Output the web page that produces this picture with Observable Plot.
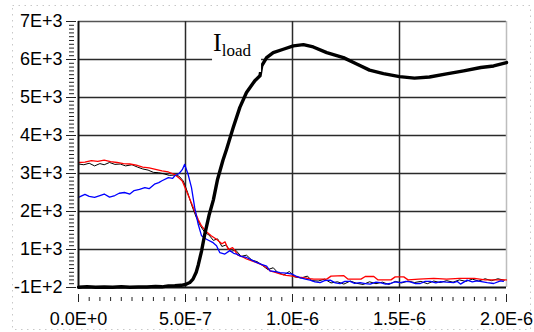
<!DOCTYPE html>
<html>
<head>
<meta charset="utf-8">
<script src="https://cdn.jsdelivr.net/npm/d3@7"></script>
<script src="https://cdn.jsdelivr.net/npm/@observablehq/plot@0.6"></script>
<style>
  html, body { margin: 0; padding: 0; background: #fff; }
  #chart { width: 534px; height: 332px; }
</style>
</head>
<body>
<div id="chart"></div>
<script>
// x in units of 1e-7 s
const xTicks = [0, 5, 10, 15, 20];
const xTickLabels = ["0.0E+0", "5.0E-7", "1.0E-6", "1.5E-6", "2.0E-6"];
const yTicks = [0, 1000, 2000, 3000, 4000, 5000, 6000, 7000];
const yTickLabels = ["-1E+2", "1E+3", "2E+3", "3E+3", "4E+3", "5E+3", "6E+3", "7E+3"];

const annotationMain = "I";
const annotationSub = "load";

// I_load (thick black)
const tIload = [0, 0.4, 0.8, 1.2, 1.6, 2.0, 2.4, 2.8, 3.2, 3.6, 3.9, 4.2, 4.5, 4.8, 5.0, 5.2, 5.35, 5.5, 5.6, 5.75, 5.9, 6.1, 6.3, 6.5, 6.75, 6.92, 7.23, 7.54, 7.85, 8.24, 8.48, 8.56, 8.79, 9.1, 9.57, 10.04, 10.51, 10.97, 11.6, 12.38, 13.0, 13.6, 14.25, 15.0, 15.7, 16.4, 17.2, 18.0, 18.8, 19.4, 20];
const iload  = [8, 18, 8, 14, 8, 18, 8, 14, 14, 28, 18, 42, 48, 58, 80, 130, 220, 400, 600, 960, 1400, 1900, 2300, 2850, 3350, 3640, 4210, 4740, 5130, 5440, 5570, 5830, 6050, 6180, 6270, 6360, 6390, 6330, 6180, 6050, 5880, 5720, 5630, 5550, 5510, 5540, 5620, 5700, 5790, 5830, 5920];

// thin black trace
const tBlack = [0, 0.25, 0.5, 0.75, 1.0, 1.2, 1.45, 1.7, 1.95, 2.2, 2.5, 2.75, 3.0, 3.25, 3.5, 3.75, 4.0, 4.25, 4.5, 4.7, 4.9, 5.1, 5.3, 5.5, 5.7, 5.9, 6.1, 6.3, 6.5, 6.7, 6.9, 7.1, 7.35, 7.6, 7.85, 8.1, 8.35, 8.6, 8.85, 9.1, 9.3, 9.6, 9.85, 10.1, 10.4, 10.7, 10.9, 11.2, 11.5, 11.8, 12.1, 12.4, 12.7, 13.0, 13.3, 13.6, 13.9, 14.2, 14.5, 14.8, 15.1, 15.4, 15.7, 16.0, 16.3, 16.6, 16.9, 17.2, 17.5, 17.8, 18.1, 18.4, 18.7, 19.0, 19.3, 19.6, 19.9];
const black  = [3250, 3230, 3270, 3200, 3260, 3230, 3290, 3240, 3250, 3200, 3230, 3170, 3120, 3090, 3030, 3020, 2990, 2950, 2960, 2930, 2800, 2500, 2150, 1850, 1620, 1450, 1380, 1240, 1280, 1080, 1120, 950, 980, 820, 850, 720, 680, 580, 470, 520, 400, 330, 420, 280, 250, 300, 180, 170, 220, 120, 150, 90, 170, 110, 80, 150, 100, 140, 80, 160, 120, 170, 130, 160, 100, 170, 130, 180, 140, 200, 160, 220, 170, 230, 180, 230, 190];

// red trace
const tRed = [0, 0.3, 0.6, 0.9, 1.2, 1.5, 1.8, 2.1, 2.4, 2.7, 3.0, 3.3, 3.6, 3.9, 4.2, 4.5, 4.7, 4.85, 5.0, 5.2, 5.4, 5.6, 5.75, 5.95, 6.2, 6.45, 6.7, 6.85, 7.0, 7.2, 7.45, 7.7, 7.85, 8.1, 8.3, 8.55, 8.8, 8.95, 9.2, 9.45, 9.7, 10.0, 10.3, 10.5, 10.8, 11.0, 11.6, 11.8, 12.4, 12.6, 13.2, 13.4, 13.8, 14.0, 14.6, 14.8, 15.2, 15.4, 15.9, 16.6, 17.2, 17.8, 18.5, 19.0, 20.0];
const red  = [3290, 3300, 3340, 3320, 3350, 3310, 3290, 3260, 3250, 3220, 3170, 3150, 3110, 3070, 3040, 2970, 2880, 2800, 2600, 2330, 2050, 1780, 1620, 1480, 1360, 1270, 1150, 1200, 1000, 1050, 850, 800, 750, 700, 660, 600, 520, 440, 400, 350, 320, 300, 270, 260, 230, 220, 220, 300, 310, 220, 220, 290, 290, 200, 200, 280, 280, 200, 220, 240, 220, 240, 240, 200, 200];

// blue trace
const tBlue = [0, 0.3, 0.5, 0.75, 1.0, 1.2, 1.45, 1.7, 1.9, 2.15, 2.4, 2.6, 2.85, 3.1, 3.3, 3.55, 3.75, 3.9, 4.2, 4.4, 4.5, 4.7, 4.85, 4.96, 5.12, 5.28, 5.43, 5.59, 5.75, 5.98, 6.29, 6.45, 6.6, 6.84, 7.07, 7.25, 7.39, 7.6, 7.85, 8.1, 8.32, 8.55, 8.79, 8.95, 9.2, 9.42, 9.7, 10.0, 10.2, 10.35, 10.6, 10.82, 11.05, 11.29, 11.5, 11.76, 12.0, 12.22, 12.45, 12.69, 12.9, 13.16, 13.4, 13.63, 13.9, 14.1, 14.35, 14.57, 14.8, 15.04, 15.3, 15.5, 15.75, 15.97, 16.2, 16.44, 16.7, 16.91, 17.2, 17.53, 17.7, 17.85, 18.16, 18.4, 18.63, 18.9, 19.1, 19.4, 19.72, 19.85];
const blue  = [2370, 2450, 2400, 2370, 2420, 2460, 2380, 2420, 2480, 2500, 2460, 2550, 2580, 2630, 2600, 2720, 2760, 2810, 2890, 2870, 2940, 3000, 3100, 3240, 2980, 2630, 2100, 1670, 1360, 1270, 1180, 1100, 920, 880, 970, 900, 880, 820, 790, 720, 660, 610, 560, 440, 420, 390, 380, 350, 290, 260, 220, 195, 150, 130, 180, 195, 120, 100, 160, 160, 110, 130, 100, 90, 140, 130, 90, 105, 150, 130, 160, 150, 100, 105, 160, 160, 120, 155, 140, 130, 160, 90, 195, 150, 175, 150, 130, 105, 175, 160];

const rows = (t, v) => t.map((x, i) => ({t: x, v: v[i]}));
const xMinor = d3.range(0, 20.001, 0.5);
const yMinor = d3.range(0, 7000.001, 100);
const fmtX = d => xTickLabels[xTicks.indexOf(d)];
const fmtY = d => yTickLabels[yTicks.indexOf(d)];

const annotation = (index, scales, values, dims) => {
  const g = d3.create("svg:g");
  // outer dotted frame
  g.append("rect")
    .attr("x", 12.5).attr("y", 5.5)
    .attr("width", dims.width - 16).attr("height", dims.height - 8)
    .attr("fill", "none").attr("stroke", "#c8c8c8")
    .attr("stroke-dasharray", "1.5,4.5");
  const x0 = scales.x(6.31), y0 = scales.y(6211);
  g.append("rect")
    .attr("x", x0 - 1).attr("y", y0 - 23)
    .attr("width", 49).attr("height", 44)
    .attr("fill", "#fff");
  const t = g.append("text")
    .attr("x", x0).attr("y", y0)
    .attr("text-anchor", "start")
    .attr("font-family", "'Liberation Serif', 'Times New Roman', serif")
    .attr("font-size", 26).attr("fill", "#000");
  t.append("tspan").text(annotationMain);
  t.append("tspan").attr("font-size", 17).attr("dy", 5).text(annotationSub);
  return g.node();
};

const chart = Plot.plot({
  width: 534,
  height: 332,
  marginLeft: 78,
  marginRight: 28,
  marginTop: 21,
  marginBottom: 45,
  style: {fontFamily: "'Liberation Sans', Arial, sans-serif", fontSize: "18px", background: "#fff", color: "#000"},
  x: {domain: [0, 20], axis: null},
  y: {domain: [0, 7000], axis: null},
  marks: [
    Plot.ruleY(yTicks.slice(1, -1), {stroke: "#2a2a2a", strokeWidth: 1.5}),
    Plot.ruleY([7000], {stroke: "#555", strokeWidth: 1.5}),
    Plot.ruleX([5, 10, 15], {stroke: "#2a2a2a", strokeWidth: 1.5}),
    Plot.ruleX([20], {stroke: "#bdbdbd", strokeWidth: 1.5}),
    Plot.line(rows(tBlack, black), {x: "t", y: "v", stroke: "#000", strokeWidth: 1}),
    Plot.line(rows(tRed, red), {x: "t", y: "v", stroke: "#ff0000", strokeWidth: 1.3}),
    Plot.line(rows(tBlue, blue), {x: "t", y: "v", stroke: "#0000ff", strokeWidth: 1.3}),
    Plot.ruleX([0], {stroke: "#111", strokeWidth: 2}),
    Plot.ruleY([0], {stroke: "#111", strokeWidth: 2}),
    Plot.line(rows(tIload, iload), {x: "t", y: "v", stroke: "#000", strokeWidth: 3.4}),
    Plot.axisX(xMinor, {tickSize: 4, dy: 10, tickFormat: () => "", stroke: "#222", label: null}),
    Plot.axisX(xTicks, {tickSize: 8, dy: 7, tickPadding: 10, tickFormat: fmtX, stroke: "#222", fill: "#000", label: null}),
    Plot.axisY(yMinor, {tickSize: 5, dx: -4, tickFormat: () => "", stroke: "#222", label: null}),
    Plot.axisY(yTicks, {tickSize: 10, dx: -2, tickPadding: 4, tickFormat: fmtY, stroke: "#222", fill: "#000", label: null}),
    annotation
  ]
});
document.getElementById("chart").appendChild(chart);
</script>
</body>
</html>
